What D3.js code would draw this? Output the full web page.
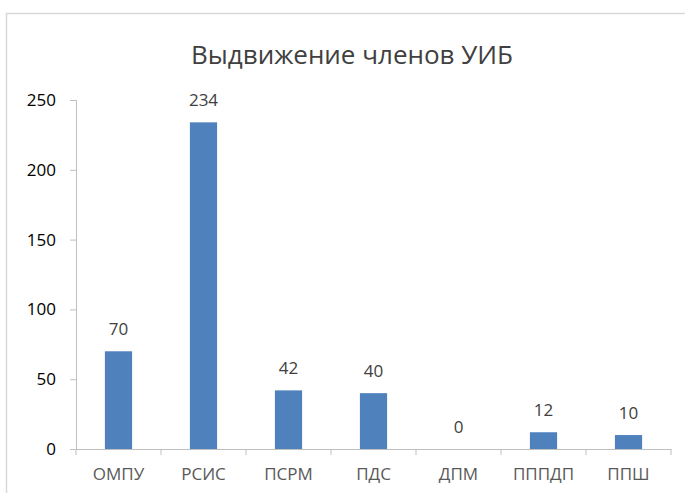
<!DOCTYPE html>
<html>
<head>
<meta charset="utf-8">
<script src="https://cdn.jsdelivr.net/npm/d3@7"></script>
<style>
  body { margin: 0; background: #fff; }
  svg { display: block; font-family: "Open Sans", "Noto Sans", sans-serif; }
</style>
</head>
<body>
<svg id="chart" width="685" height="493"></svg>
<script>
// chart data
const categories = ["ОМПУ", "РСИС", "ПСРМ", "ПДС", "ДПМ", "ПППДП", "ППШ"];
const values = [70, 234, 42, 40, 0, 12, 10];
const yTicks = [0, 50, 100, 150, 200, 250];
const title = "Выдвижение членов УИБ";

const width = 685, height = 493;
const margin = { top: 100, right: 14, bottom: 44, left: 76 };

const svg = d3.select("#chart");

// outer chart border (runs off the right and bottom edge)
svg.append("rect")
  .attr("x", 6.5).attr("y", 13.5)
  .attr("width", 700).attr("height", 500)
  .attr("fill", "none")
  .attr("stroke", "#d9d9d9")
  .attr("stroke-width", 1.5);

const x = d3.scaleBand()
  .domain(categories)
  .range([margin.left, width - margin.right]);

const y = d3.scaleLinear()
  .domain([0, 250])
  .range([height - margin.bottom, margin.top]);

// title
svg.append("text")
  .attr("x", 352)
  .attr("y", 64)
  .attr("text-anchor", "middle")
  .attr("fill", "#404040")
  .style("font-size", "26px")
  .text(title);

// y axis
const yAxis = svg.append("g")
  .attr("transform", `translate(${margin.left},0)`)
  .call(d3.axisLeft(y).tickValues(yTicks).tickSize(6).tickPadding(14));
yAxis.select(".domain").attr("stroke", "#bfbfbf");
yAxis.selectAll(".tick line").attr("stroke", "#bfbfbf");
yAxis.selectAll(".tick text")
  .attr("fill", "#000")
  .style("font-size", "17px")
  .style("font-family", "Open Sans, sans-serif");

// bars
const barW = x.bandwidth() * 0.32;
svg.selectAll("rect.bar")
  .data(values)
  .enter()
  .append("rect")
  .attr("class", "bar")
  .attr("x", (d, i) => x(categories[i]) + (x.bandwidth() - barW) / 2)
  .attr("y", d => y(d))
  .attr("width", barW)
  .attr("height", d => y(0) - y(d))
  .attr("fill", "#4f81bd");

// x axis
const xAxis = svg.append("g")
  .attr("transform", `translate(0,${y(0)})`)
  .call(d3.axisBottom(x).tickSize(0).tickPadding(19).tickSizeOuter(0));
xAxis.select(".domain").attr("stroke", "#bfbfbf");
xAxis.selectAll(".tick text")
  .attr("fill", "#595959")
  .style("font-size", "17px")
  .style("font-family", "Open Sans, sans-serif");

// category separator ticks
const bounds = categories.map(c => x(c)).concat([x.range()[1]]);
svg.append("g")
  .selectAll("line")
  .data(bounds)
  .enter()
  .append("line")
  .attr("x1", d => d).attr("x2", d => d)
  .attr("y1", y(0)).attr("y2", y(0) + 6)
  .attr("stroke", "#bfbfbf");

// data labels
svg.selectAll("text.label")
  .data(values)
  .enter()
  .append("text")
  .attr("class", "label")
  .attr("x", (d, i) => x(categories[i]) + x.bandwidth() / 2)
  .attr("y", d => y(d) - 16)
  .attr("text-anchor", "middle")
  .attr("fill", "#404040")
  .style("font-size", "17px")
  .text(d => d);
</script>
</body>
</html>
